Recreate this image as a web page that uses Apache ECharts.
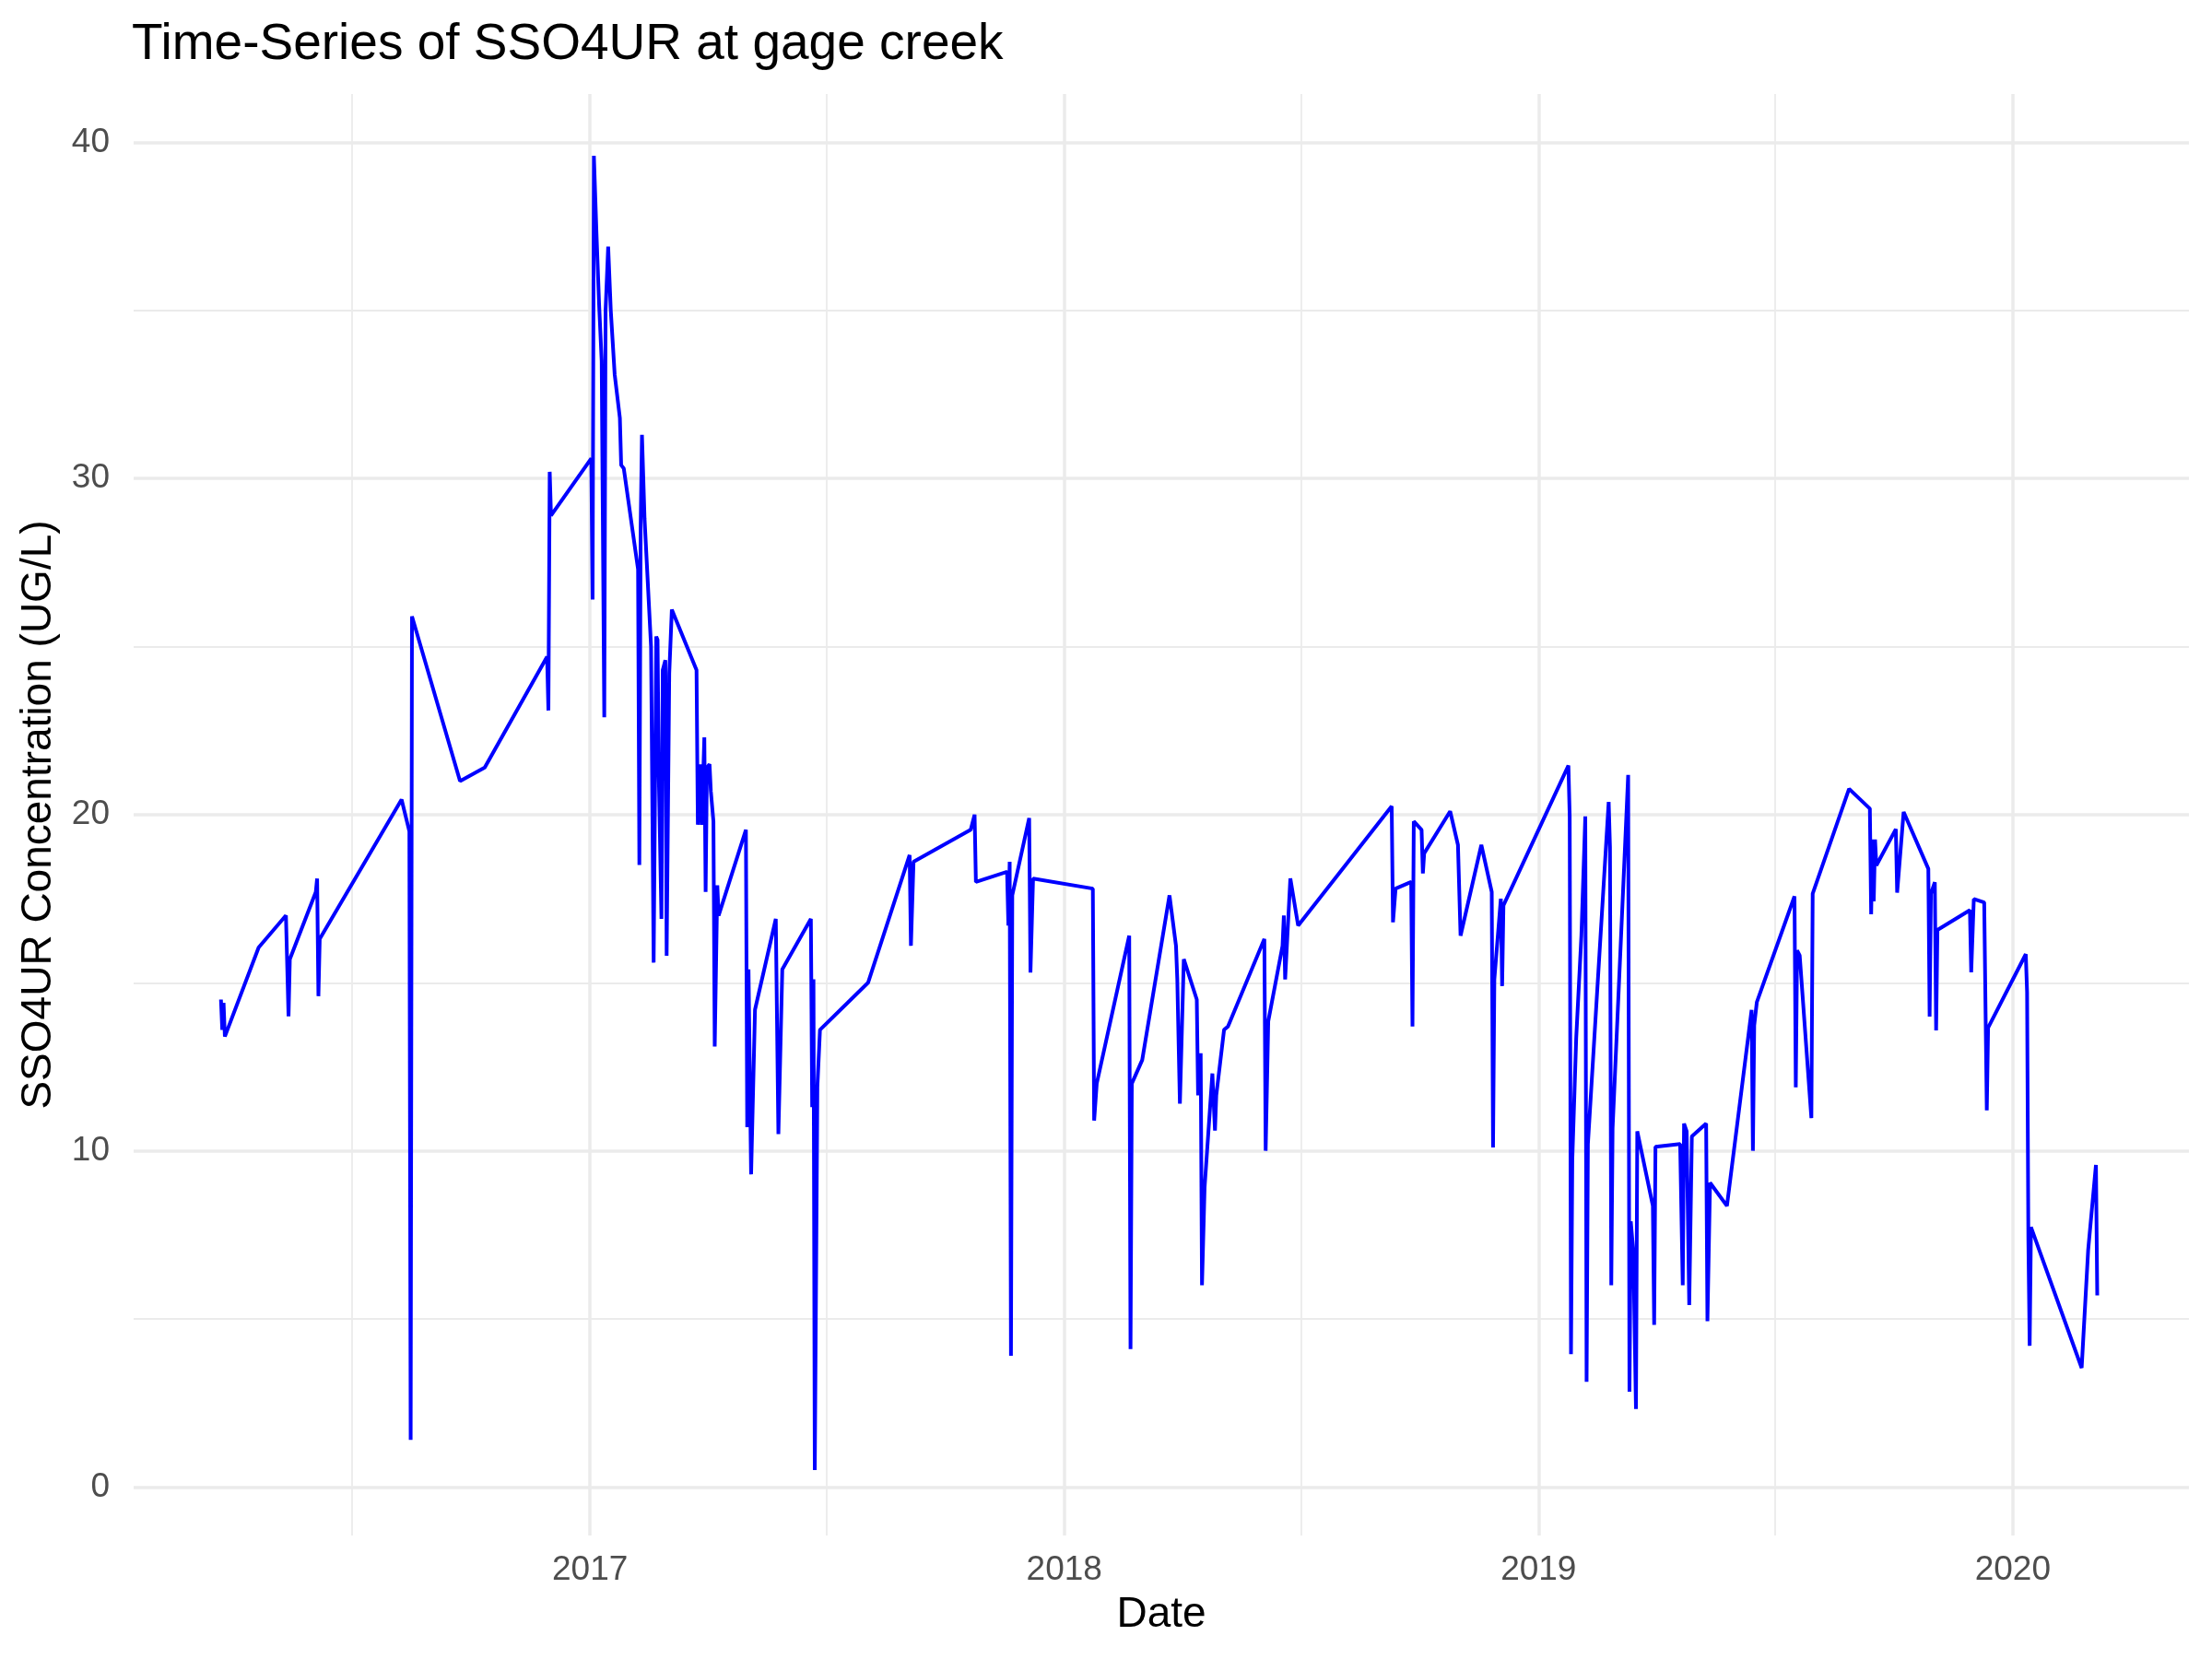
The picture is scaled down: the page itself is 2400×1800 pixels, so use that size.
<!DOCTYPE html>
<html>
<head>
<meta charset="utf-8">
<script src="https://cdn.jsdelivr.net/npm/echarts@6/dist/echarts.min.js"></script>
<style>
  html, body { margin: 0; padding: 0; background: #fff; }
  #chart { width: 2400px; height: 1800px; }
</style>
</head>
<body>
<div id="chart"></div>
<script>
// sample dates
const dates = [
  '2016-03-23', '2016-03-24', '2016-03-25', '2016-03-26', '2016-04-21', '2016-05-12', '2016-05-14', '2016-05-15',
  '2016-06-04', '2016-06-05', '2016-06-06', '2016-06-07', '2016-08-09', '2016-08-15', '2016-08-16', '2016-08-17',
  '2016-09-23', '2016-10-12', '2016-11-29', '2016-11-30', '2016-12-01', '2016-12-02',
  '2017-01-02', '2017-01-03', '2017-01-04', '2017-01-06', '2017-01-08', '2017-01-10', '2017-01-12', '2017-01-13',
  '2017-01-15', '2017-01-17', '2017-01-20', '2017-01-24', '2017-01-25', '2017-01-27', '2017-02-07', '2017-02-08',
  '2017-02-09', '2017-02-10', '2017-02-12', '2017-02-17', '2017-02-19', '2017-02-21', '2017-02-22', '2017-02-23',
  '2017-02-25', '2017-02-26', '2017-02-28', '2017-03-01', '2017-03-03', '2017-03-05', '2017-03-24', '2017-03-25',
  '2017-03-27', '2017-03-28', '2017-03-30', '2017-03-31', '2017-04-01', '2017-04-03', '2017-04-04', '2017-04-06',
  '2017-04-07', '2017-04-09', '2017-04-10', '2017-05-01', '2017-05-02', '2017-05-03', '2017-05-05', '2017-05-08',
  '2017-05-24', '2017-05-26', '2017-05-29', '2017-06-20', '2017-06-21', '2017-06-22', '2017-06-23', '2017-06-25',
  '2017-06-27', '2017-08-03', '2017-09-04', '2017-09-05', '2017-09-07', '2017-10-21', '2017-10-24', '2017-10-25',
  '2017-11-18', '2017-11-19', '2017-11-20', '2017-11-21', '2017-11-22', '2017-12-05', '2017-12-06', '2017-12-08',
  '2018-01-23', '2018-01-24', '2018-01-26', '2018-02-20', '2018-02-21', '2018-02-22', '2018-03-02', '2018-03-23',
  '2018-03-28', '2018-03-29', '2018-03-31', '2018-04-03', '2018-04-13', '2018-04-14', '2018-04-16', '2018-04-17',
  '2018-04-19', '2018-04-25', '2018-04-27', '2018-04-28', '2018-05-04', '2018-05-07', '2018-06-04', '2018-06-05',
  '2018-06-07', '2018-06-18', '2018-06-19', '2018-06-20', '2018-06-24', '2018-06-30', '2018-09-10', '2018-09-11',
  '2018-09-13', '2018-09-25', '2018-09-26', '2018-09-27', '2018-10-03', '2018-10-04', '2018-10-05', '2018-10-25',
  '2018-10-31', '2018-11-02', '2018-11-18', '2018-11-26', '2018-11-27', '2018-11-28', '2018-12-03', '2018-12-04',
  '2018-12-05',
  '2019-01-24', '2019-01-25', '2019-01-26', '2019-01-27', '2019-01-30', '2019-02-03', '2019-02-06', '2019-02-07',
  '2019-02-08', '2019-02-24', '2019-02-25', '2019-02-26', '2019-02-27', '2019-03-11', '2019-03-12', '2019-03-13',
  '2019-03-15', '2019-03-17', '2019-03-18', '2019-03-30', '2019-03-31', '2019-04-01', '2019-04-20', '2019-04-22',
  '2019-04-23', '2019-04-25', '2019-04-27', '2019-04-29', '2019-05-10', '2019-05-11', '2019-05-13', '2019-05-26',
  '2019-06-14', '2019-06-15', '2019-06-16', '2019-06-18', '2019-07-17', '2019-07-18', '2019-07-19', '2019-07-21',
  '2019-07-30', '2019-07-31', '2019-08-28', '2019-09-13', '2019-09-14', '2019-09-15', '2019-09-16', '2019-09-17',
  '2019-09-18', '2019-10-03', '2019-10-04', '2019-10-09', '2019-10-28', '2019-10-29', '2019-10-30', '2019-11-02',
  '2019-11-03', '2019-11-04', '2019-11-29', '2019-11-30', '2019-12-02', '2019-12-10', '2019-12-12', '2019-12-13',
  '2020-01-11', '2020-01-12', '2020-01-13', '2020-01-14', '2020-01-15', '2020-02-23', '2020-02-28', '2020-03-05',
  '2020-03-06'
];

// SSO4UR concentration (UG/L), same order as dates
const sso4ur = [
  14.5, 13.6, 14.4, 13.4, 16.05, 17.0, 14.0, 15.7,
  17.7, 18.1, 14.6, 16.3, 20.45, 19.5, 1.4, 25.9,
  21.0, 21.4, 24.7, 23.1, 30.2, 28.9,
  30.6, 26.4, 39.6, 37.3, 35.2, 33.5, 22.9, 35.0,
  36.9, 35.0, 33.1, 31.8, 30.4, 30.3, 27.3, 18.5,
  28.6, 31.3, 28.8, 25.0, 15.6, 25.3, 25.2, 21.1,
  16.9, 24.3, 24.6, 15.8, 24.2, 26.1, 24.3, 19.7,
  21.5, 19.7, 22.3, 17.7, 21.4, 21.5, 20.7, 19.8,
  13.1, 17.9, 17.0, 19.55, 10.7, 15.4, 9.3, 14.2,
  16.9, 10.5, 15.4, 16.9, 11.3, 15.1, 0.5, 11.9,
  13.6, 15.0, 18.8, 16.1, 18.6, 19.55, 20.0, 18.0,
  18.3, 16.7, 18.6, 3.9, 17.6, 19.9, 15.3, 18.1,
  17.8, 10.9, 12.0, 16.4, 4.1, 12.0, 12.7, 17.6,
  16.1, 15.1, 11.4, 15.7, 14.5, 11.65, 12.9, 6.0,
  8.9, 12.3, 10.6, 11.65, 13.6, 13.7, 16.3, 10.0,
  13.85, 16.1, 17.0, 15.1, 18.1, 16.7, 20.25, 16.8,
  17.8, 18.0, 13.7, 19.8, 19.55, 18.25, 18.85, 20.1,
  19.1, 16.4, 19.1, 17.7, 10.1, 15.1, 17.5, 14.9,
  17.3,
  21.46, 19.95, 3.95, 9.74, 13.35, 16.4, 19.95, 3.13,
  10.2, 20.38, 19.03, 6.0, 10.66, 21.18, 2.83, 7.9,
  6.98, 2.32, 10.58, 8.36, 4.82, 10.12, 10.2, 6.0,
  10.81, 10.58, 5.41, 10.43, 10.81, 4.93, 9.05, 8.36,
  14.19, 10.0, 13.73, 14.42, 17.57, 11.89, 15.96, 15.81,
  10.97, 17.65, 20.77, 20.18, 17.04, 19.26, 17.42, 19.26,
  18.49, 19.57, 17.68, 20.08, 18.39, 13.99, 17.65, 17.99,
  13.58, 16.57, 17.16, 15.31, 17.49, 17.39, 11.2, 13.66,
  15.85, 14.72, 7.35, 4.2, 7.73, 3.54, 7.04, 9.58,
  5.7
];

const xMajorTicks = ['2017-01-01', '2018-01-01', '2019-01-01', '2020-01-01'];
const xMinorTicks = ['2016-07-02', '2017-07-02', '2018-07-02', '2019-07-02'];
const yMajorTicks = [0, 10, 20, 30, 40];
const yMinorTicks = [5, 15, 25, 35];

const parse = (d) => +echarts.number.parseDate(d);
const FONT = "'Liberation Sans', Arial, sans-serif";
const GRID_COLOR = '#EBEBEB';

const gridLines = [].concat(
  yMinorTicks.map(v => ({ yAxis: v, lineStyle: { width: 1.8 } })),
  yMajorTicks.map(v => ({ yAxis: v, lineStyle: { width: 3.5 } })),
  xMinorTicks.map(d => ({ xAxis: parse(d), lineStyle: { width: 1.8 } })),
  xMajorTicks.map(d => ({ xAxis: parse(d), lineStyle: { width: 3.5 } }))
);

const chart = echarts.init(document.getElementById('chart'), null, { renderer: 'canvas' });

chart.setOption({
  animation: false,
  backgroundColor: '#ffffff',
  title: {
    text: 'Time-Series of SSO4UR at gage creek',
    left: 138,
    top: 16,
    textStyle: { fontFamily: FONT, fontSize: 55, fontWeight: 'normal', color: '#000000' }
  },
  grid: { left: 145, right: 25, top: 102, bottom: 134, containLabel: false },
  xAxis: {
    // dates as timestamps on a plain value axis, labelled by year
    type: 'value',
    min: parse('2016-01-15 19:00'),
    max: parse('2020-05-15 14:00'),
    name: 'Date',
    nameLocation: 'middle',
    nameGap: 63,
    nameTextStyle: { fontFamily: FONT, fontSize: 46, color: '#000000' },
    axisLine: { show: false },
    axisTick: { show: false },
    splitLine: { show: false },
    axisLabel: {
      customValues: xMajorTicks.map(parse),
      formatter: (v) => String(new Date(v).getFullYear()),
      fontFamily: FONT,
      fontSize: 37,
      color: '#4D4D4D',
      margin: 19
    }
  },
  yAxis: {
    type: 'value',
    min: -1.445,
    max: 41.44,
    name: 'SSO4UR Concentration (UG/L)',
    nameLocation: 'middle',
    nameRotate: 90,
    nameGap: 80,
    nameTextStyle: { fontFamily: FONT, fontSize: 46, color: '#000000' },
    axisLine: { show: false },
    axisTick: { show: false },
    splitLine: { show: false },
    axisLabel: {
      customValues: yMajorTicks,
      fontFamily: FONT,
      fontSize: 37,
      color: '#4D4D4D',
      margin: 26
    }
  },
  series: [
    {
      name: 'SSO4UR',
      type: 'line',
      z: 3,
      showSymbol: false,
      symbol: 'none',
      data: dates.map((d, i) => [parse(d), sso4ur[i]]),
      lineStyle: { color: '#0000FF', width: 4 },
      itemStyle: { color: '#0000FF' },
      markLine: {
        silent: true,
        z: 1,
        symbol: ['none', 'none'],
        label: { show: false },
        lineStyle: { color: GRID_COLOR, type: 'solid', width: 2 },
        emphasis: { disabled: true },
        data: gridLines
      }
    }
  ]
});
</script>
</body>
</html>
